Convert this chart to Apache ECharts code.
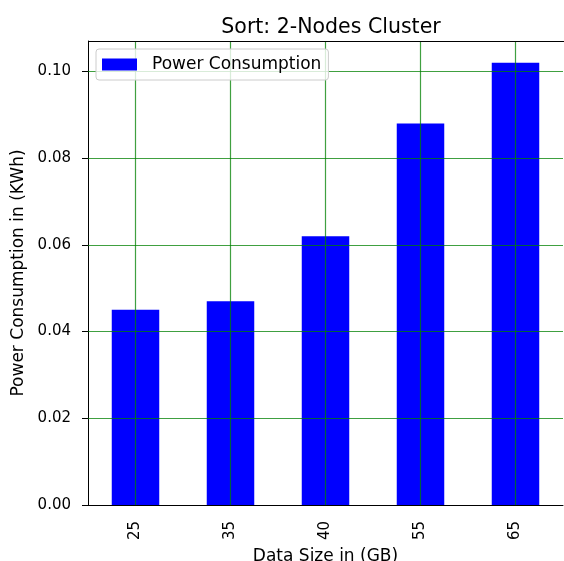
<!DOCTYPE html>
<html><head><meta charset="utf-8">
<script src="https://cdn.jsdelivr.net/npm/echarts@6/dist/echarts.min.js"></script>
<style>html,body{margin:0;padding:0;background:#fff}#c{width:564px;height:561px}</style>
</head><body><div id="c"></div>
<script>
const categories = ['25', '35', '40', '55', '65'];
const powerValues = [0.045, 0.047, 0.062, 0.088, 0.102];
const yTicks = [0.02, 0.04, 0.06, 0.08, 0.10];

const font = 'DejaVu Sans';
const gridColor = 'rgba(0,128,0,0.75)';
const gridLines = categories.map(c => ({xAxis: c}))
  .concat(yTicks.map(v => ({yAxis: v})));

const chart = echarts.init(document.getElementById('c'), null, {renderer: 'canvas'});
chart.setOption({
  animation: false,
  backgroundColor: '#fff',
  title: {
    text: 'Sort: 2-Nodes Cluster', left: 326, top: 12, textAlign: 'center',
    textStyle: {fontFamily: font, fontSize: 20.5, fontWeight: 'normal', color: '#000'}
  },
  legend: {
    left: 96, top: 49, data: [{name: 'Power Consumption', icon: 'rect'}],
    itemWidth: 35, itemHeight: 12, itemGap: 10,
    padding: [7, 7, 7, 6],
    borderColor: '#ccc', borderWidth: 1, borderRadius: 3,
    backgroundColor: 'rgba(255,255,255,0.8)',
    textStyle: {fontFamily: font, fontSize: 17, color: '#000', padding: [0, 0, 0, 10]},
    z: 20
  },
  grid: {left: 88, right: 1, top: 41, bottom: 56, containLabel: false, outerBoundsMode: 'none'},
  xAxis: {
    type: 'category', data: categories,
    name: 'Data Size in (GB)', nameLocation: 'middle', nameGap: 38,
    nameTextStyle: {fontFamily: font, fontSize: 17, color: '#000'},
    axisLine: {lineStyle: {color: '#000', width: 1}},
    axisTick: {alignWithLabel: true, length: 6, lineStyle: {color: '#000'}},
    axisLabel: {rotate: 90, fontFamily: font, fontSize: 15, color: '#000', margin: 16},
    splitLine: {show: false}
  },
  yAxis: {
    type: 'value', min: 0, max: 0.107, interval: 0.02,
    name: 'Power Consumption in (KWh)', nameLocation: 'middle', nameGap: 54,
    nameTextStyle: {fontFamily: font, fontSize: 17, color: '#000'},
    axisLine: {show: true, lineStyle: {color: '#000', width: 1}},
    axisTick: {show: true, length: 6, lineStyle: {color: '#000'}},
    axisLabel: {fontFamily: font, fontSize: 15, color: '#000', margin: 17,
      formatter: v => v.toFixed(2), showMaxLabel: false},
    splitLine: {show: false}
  },
  series: [{
    name: 'Power Consumption', type: 'bar', data: powerValues,
    barWidth: '50%', itemStyle: {color: '#0000ff'}, z: 2,
    markLine: {
      silent: true, symbol: 'none', z: 5, animation: false,
      label: {show: false},
      lineStyle: {color: gridColor, width: 1.2, type: 'solid'},
      data: gridLines
    }
  }],
  graphic: [{
    type: 'line', shape: {x1: 88, y1: 41.5, x2: 564, y2: 41.5},
    style: {stroke: '#000', lineWidth: 1}, z: 15
  }]
});
</script></body></html>
